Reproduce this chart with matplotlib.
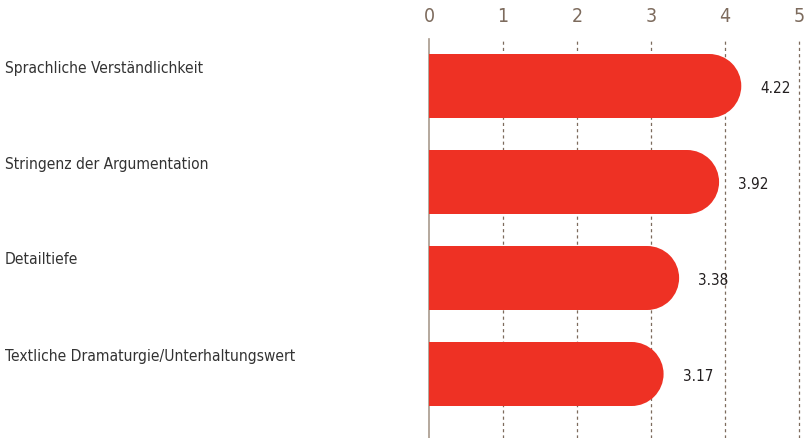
import matplotlib.pyplot as plt
from matplotlib.patches import Rectangle, Ellipse
from matplotlib.transforms import blended_transform_factory

# Bewertungen (Mittelwerte, Skala 0-5)
kategorien = [
    "Sprachliche Verständlichkeit",
    "Stringenz der Argumentation",
    "Detailtiefe",
    "Textliche Dramaturgie/Unterhaltungswert",
]
werte = [4.22, 3.92, 3.38, 3.17]
ticks = [0, 1, 2, 3, 4, 5]

rot = "#ee3124"
braun = "#7d6b5d"

plt.rcParams["font.family"] = ["DejaVu Sans"]
plt.rcParams["font.stretch"] = "condensed"

W, H, DPI = 806, 438, 100
fig = plt.figure(figsize=(W / DPI, H / DPI), dpi=DPI)
ax = fig.add_axes([429 / W, 0, (799 - 429) / W, (438 - 39) / H])

xmax = 5.0
ax.set_xlim(0, xmax)
ax.set_ylim(3 + 64 / 96, -47 / 96)

balken_h = 64 / 96
px_pro_einheit = (799 - 429) / xmax
r = (balken_h * 96 / 2) / px_pro_einheit  # Radius der runden Kappe in x-Einheiten

for i, v in enumerate(werte):
    ax.add_patch(Rectangle((0, i - balken_h / 2), v - r, balken_h,
                           facecolor=rot, edgecolor="none", zorder=3))
    ax.add_patch(Ellipse((v - r, i), 2 * r, balken_h,
                         facecolor=rot, edgecolor="none", zorder=3))
    ax.text(v + 19 / px_pro_einheit, i + 0.03, f"{v:.2f}", ha="left", va="center",
            fontsize=11, color="#231f20", zorder=4)

# Kategorienamen links
trans = blended_transform_factory(fig.transFigure, ax.transData)
for i, k in enumerate(kategorien):
    ax.text(5 / W, i - 18 / 96, k, transform=trans, ha="left", va="center",
            fontsize=11.2, color="#333333")

# Achse oben, gestrichelte Gitterlinien
ax.xaxis.tick_top()
ax.set_xticks(ticks)
ax.set_xticklabels([str(t) for t in ticks], fontsize=14, color=braun)
ax.tick_params(axis="x", length=0, pad=9)
ax.set_yticks([])
for t in ticks[1:]:
    ax.axvline(t, color=braun, lw=0.9, ls=(0, (2.5, 2.5)), zorder=1, clip_on=False)

for s in ["top", "right", "bottom"]:
    ax.spines[s].set_visible(False)
ax.spines["left"].set_color("#a89a8c")
ax.spines["left"].set_linewidth(1.2)

fig.savefig("out.png", dpi=DPI)
